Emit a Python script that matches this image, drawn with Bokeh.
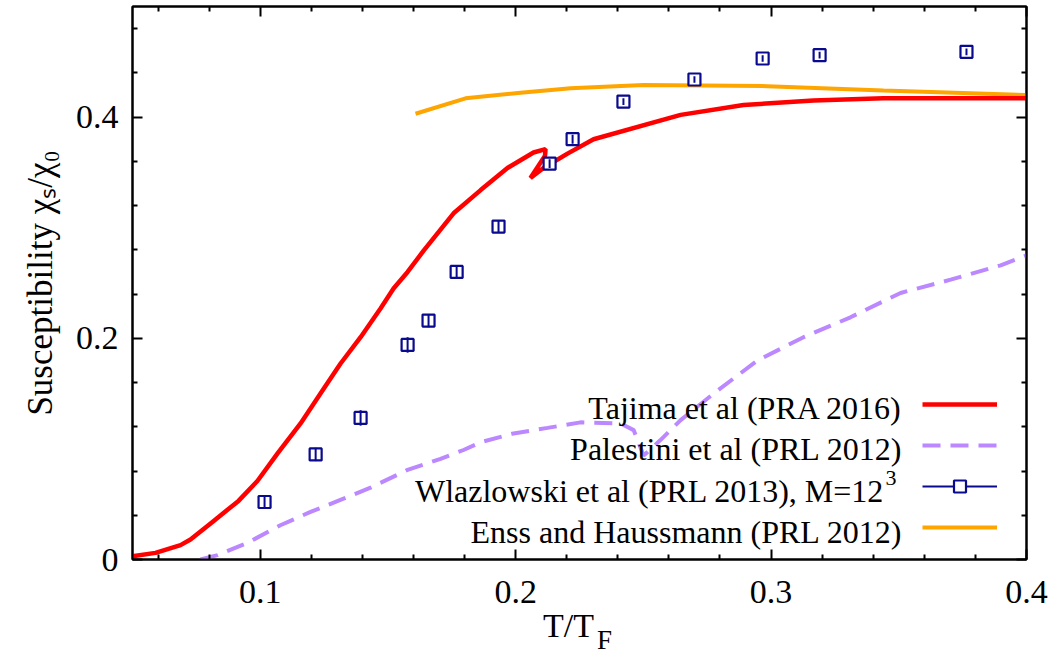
from bokeh.plotting import figure
from bokeh.models import Range1d, FixedTicker, LinearAxis, Label, Legend, LegendItem
from bokeh.core.properties import value
from bokeh.embed import file_html
from bokeh.resources import INLINE

# ---- data: spin susceptibility chi_s/chi_0 versus T/T_F ----
# Tajima et al (PRA 2016)
tajima_T = [0.0500, 0.0590, 0.0688, 0.0727, 0.0813, 0.0915, 0.0989, 0.1068, 0.1158,
            0.1236, 0.1314, 0.1393, 0.1471, 0.1522, 0.1577, 0.1639, 0.1757, 0.1863,
            0.1968, 0.2019, 0.2070, 0.2117, 0.2115, 0.2058, 0.2109, 0.2203, 0.2305,
            0.2646, 0.2892, 0.3166, 0.3440, 0.3700, 0.4000]
tajima_chi = [0.003, 0.006, 0.013, 0.018, 0.034, 0.053, 0.071, 0.096, 0.123,
              0.150, 0.177, 0.201, 0.227, 0.245, 0.260, 0.279, 0.313, 0.334,
              0.354, 0.361, 0.368, 0.371, 0.365, 0.345, 0.354, 0.367, 0.380,
              0.402, 0.411, 0.415, 0.417, 0.417, 0.417]

# Palestini et al (PRL 2012)
palestini_T = [0.0766, 0.0833, 0.0950, 0.1079, 0.1197, 0.1326, 0.1432, 0.1577, 0.1706,
               0.1796, 0.1863, 0.1992, 0.2125, 0.2254, 0.2411, 0.2462, 0.2501, 0.2567,
               0.2646, 0.2775, 0.2947, 0.3127, 0.3311, 0.3507, 0.3703, 0.3899, 0.4000]
palestini_chi = [0.000, 0.004, 0.015, 0.031, 0.043, 0.055, 0.065, 0.081, 0.091,
                 0.099, 0.106, 0.114, 0.119, 0.124, 0.123, 0.117, 0.094, 0.108,
                 0.126, 0.150, 0.180, 0.201, 0.219, 0.241, 0.253, 0.266, 0.275]

# Wlazlowski et al (PRL 2013), M=12^3
wlaz_T = [0.1017, 0.1217, 0.1393, 0.1577, 0.1659, 0.1769, 0.1933, 0.2133, 0.2223,
          0.2422, 0.2700, 0.2967, 0.3190, 0.3765]
wlaz_chi = [0.052, 0.095, 0.128, 0.194, 0.216, 0.260, 0.301, 0.358, 0.380,
            0.414, 0.434, 0.453, 0.456, 0.459]
wlaz_err = [0.006, 0.006, 0.007, 0.007, 0.006, 0.005, 0.005, 0.004, 0.004,
            0.003, 0.003, 0.003, 0.003, 0.003]

# Enss and Haussmann (PRL 2012)
enss_T = [0.1608, 0.1804, 0.2019, 0.2215, 0.2501, 0.2986, 0.3440, 0.3996]
enss_chi = [0.403, 0.417, 0.422, 0.426, 0.429, 0.428, 0.424, 0.420]

# axes ticks
x_ticks = [0.1, 0.2, 0.3, 0.4]
x_tick_labels = ["0.1", "0.2", "0.3", "0.4"]
x_minor = [0.06, 0.08, 0.12, 0.14, 0.16, 0.18, 0.22, 0.24, 0.26, 0.28,
           0.32, 0.34, 0.36, 0.38]
y_ticks = [0.0, 0.2, 0.4]
y_tick_labels = ["0", "0.2", "0.4"]
y_minor = [0.04, 0.08, 0.12, 0.16, 0.24, 0.28, 0.32, 0.36, 0.44, 0.48]

y_title = "Susceptibility \u03c7\u209b/\u03c7\u2080"
legend_labels = ["Tajima et al (PRA 2016)", "Palestini et al (PRL 2012)",
                 "Wlazlowski et al (PRL 2013), M=12", "Enss and Haussmann (PRL 2012)"]

# ---- styling ----
FONT = "Liberation Serif"
RED = "#ff0000"
LAVENDER = "#bb88ff"
NAVY = "#0a0a8e"
ORANGE = "#ffa500"

X0, X1, Y0, Y1 = 0.05, 0.4, 0.0, 0.5
FRAME_L, FRAME_T, FRAME_W, FRAME_H = 132, 6, 894, 553
FRAME_B = FRAME_T + FRAME_H
CANVAS_W, CANVAS_H = 1059, 659

p = figure(frame_width=FRAME_W, frame_height=FRAME_H,
           min_border_left=FRAME_L, min_border_top=FRAME_T,
           min_border_right=CANVAS_W - FRAME_L - FRAME_W,
           min_border_bottom=CANVAS_H - FRAME_B,
           x_range=Range1d(X0, X1), y_range=Range1d(Y0, Y1),
           output_backend="svg", toolbar_location=None, tools="")
p.background_fill_color = "white"
p.border_fill_color = "white"
p.outline_line_color = "black"
p.outline_line_width = 2
p.xgrid.visible = False
p.ygrid.visible = False


def style_axis(ax, ticks, minor, labels):
    ax.ticker = FixedTicker(ticks=ticks, minor_ticks=minor)
    ax.axis_line_color = "black"
    ax.axis_line_width = 2
    ax.major_tick_in = 10
    ax.major_tick_out = 0
    ax.minor_tick_in = 5
    ax.minor_tick_out = 0
    ax.major_tick_line_width = 2
    ax.minor_tick_line_width = 2
    ax.major_tick_line_color = "black"
    ax.minor_tick_line_color = "black"
    if labels is None:
        ax.major_label_text_font_size = "0px"
        ax.major_label_standoff = 0
    else:
        ax.major_label_overrides = dict(zip(ticks, labels))
        ax.major_label_text_font = FONT
        ax.major_label_text_font_size = "34px"
        ax.major_label_text_color = "black"


style_axis(p.xaxis[0], x_ticks, x_minor, x_tick_labels)
p.xaxis[0].major_label_standoff = 21
style_axis(p.yaxis[0], y_ticks, y_minor, y_tick_labels)
p.yaxis[0].major_label_standoff = 14
p.yaxis[0].axis_label = y_title
p.yaxis[0].axis_label_standoff = 13
p.yaxis[0].axis_label_text_font = FONT
p.yaxis[0].axis_label_text_font_size = "35px"
p.yaxis[0].axis_label_text_font_style = "normal"
p.yaxis[0].axis_label_text_color = "black"

top_axis = LinearAxis()
style_axis(top_axis, x_ticks, x_minor, None)
p.add_layout(top_axis, "above")
right_axis = LinearAxis()
style_axis(right_axis, y_ticks, y_minor, None)
p.add_layout(right_axis, "right")

# ---- curves ----
r_pal = p.line(palestini_T, palestini_chi, line_color=LAVENDER, line_width=4,
               line_dash="18 10")
r_enss = p.line(enss_T, enss_chi, line_color=ORANGE, line_width=4)
r_taj = p.line(tajima_T, tajima_chi, line_color=RED, line_width=4.5,
               line_join="bevel")
r_sq = p.scatter(wlaz_T, wlaz_chi, marker="square", size=12, line_color=NAVY,
                 line_width=2.2, fill_color="white")
r_err = p.segment(x0=wlaz_T, y0=[c - e for c, e in zip(wlaz_chi, wlaz_err)],
                  x1=wlaz_T, y1=[c + e for c, e in zip(wlaz_chi, wlaz_err)],
                  line_color=NAVY, line_width=2)

# ---- legend keys (drawn to the right of the text, text placed separately) ----
legend = Legend(items=[
    LegendItem(label=value(" "), renderers=[r_taj]),
    LegendItem(label=value(" "), renderers=[r_pal]),
    LegendItem(label=value(" "), renderers=[r_err, r_sq]),
    LegendItem(label=value(" "), renderers=[r_enss]),
], location=(922 - FRAME_L, FRAME_B - 542), glyph_width=75, glyph_height=30,
    label_height=30, label_width=0, label_standoff=0, label_text_font_size="1px",
    spacing=11, padding=0, margin=0, border_line_color=None,
    background_fill_alpha=0)
p.add_layout(legend)


def place(text, cx, cy, size, align="left"):
    """Text inside the frame at canvas pixel (cx, cy), cy being the middle of the caps."""
    p.add_layout(Label(x=cx - FRAME_L, y=FRAME_B - cy, x_units="screen", y_units="screen",
                       text=text, text_font=FONT, text_font_size=f"{size}px",
                       text_align=align, text_baseline="middle", text_color="black"))


for label, mid in zip(legend_labels, [407, 448, 490, 531]):
    if label.endswith("M=12"):
        place(label, 884, mid, 32, align="right")
        place("3", 885, mid - 13, 22)
    else:
        place(label, 902, mid, 32, align="right")


# ---- x title T/T_F: label-only axes stacked under the tick labels ----
def px_to_x(cx):
    return X0 + (cx - FRAME_L) / FRAME_W * (X1 - X0)


def below_piece(text, cx, size, standoff):
    pos = px_to_x(cx)
    ax = LinearAxis()
    ax.ticker = FixedTicker(ticks=[pos], minor_ticks=[])
    ax.major_label_overrides = {pos: text}
    ax.axis_line_color = None
    ax.major_tick_line_color = None
    ax.minor_tick_line_color = None
    ax.major_tick_in = 0
    ax.major_tick_out = 0
    ax.minor_tick_in = 0
    ax.minor_tick_out = 0
    ax.major_label_standoff = standoff
    ax.major_label_text_font = FONT
    ax.major_label_text_font_size = f"{size}px"
    ax.major_label_text_color = "black"
    p.add_layout(ax, "below")


below_piece("T/T", 568, 34, 1)
below_piece("F", 604, 27, -22)

open("out.html", "w").write(file_html(p, INLINE))
